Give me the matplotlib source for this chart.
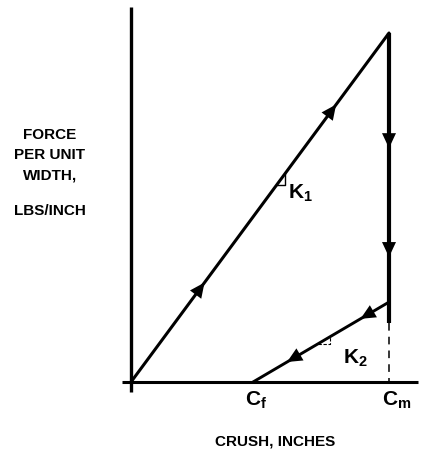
import numpy as np
import matplotlib.pyplot as plt

plt.rcParams['mathtext.fontset'] = 'custom'
plt.rcParams['mathtext.rm'] = 'Liberation Sans'
plt.rcParams['mathtext.bf'] = 'Liberation Sans:bold'
plt.rcParams['mathtext.it'] = 'Liberation Sans:bold'

# crush (normalised to C_m) and force per unit width (normalised to peak)
c_f = 0.473
c_m = 1.0
crush_load = [0.0, c_m]
force_load = [0.0, 1.0]
crush_drop = [c_m, c_m]
force_drop = [1.0, 0.17]
crush_unload = [c_m, c_f]
force_unload = [0.229, 0.0]

x_ticks = [c_f, c_m]
x_tick_labels = ['$\\mathbf{C_f}$', '$\\mathbf{C_m}$']
y_label_lines = ['FORCE', 'PER UNIT', 'WIDTH,', 'LBS/INCH']
x_label = 'CRUSH, INCHES'

# pixel layout: origin and scale of the sketch
W, H = 425, 455
ox, oy = 131, 382
sx, sy = 258, 349

fig = plt.figure(figsize=(W / 100, H / 100), dpi=100)
ax = fig.add_axes([0, 0, 1, 1])
ax.set_xlim(-ox / sx, (W - ox) / sx)
ax.set_ylim(-(H - oy) / sy, oy / sy)
ax.axis('off')


def px(x, y):
    # pixel position -> data units
    return (x - ox) / sx, (oy - y) / sy


# axes drawn by hand
x0, y_top = px(131, 7)
_, y_bot = px(131, 392)
ax.plot([0, 0], [y_bot, y_top], color='black', lw=2.4, solid_capstyle='butt')
xl, _ = px(122, 0)
xr, _ = px(418, 0)
ax.plot([xl, xr], [0, 0], color='black', lw=2.2, solid_capstyle='butt')

ax.plot(crush_load, force_load, color='black', lw=2.2, solid_capstyle='round')
ax.plot(crush_drop, force_drop, color='black', lw=3.0, solid_capstyle='butt')
ax.plot(crush_unload, force_unload, color='black', lw=2.1)
ax.plot([c_m, c_m], [force_drop[1], 0], color='black', lw=1.1,
        ls=(0, (5, 4)))


def arrow_on(xs, ys, t):
    xa, ya = xs[0] + (xs[1] - xs[0]) * t, ys[0] + (ys[1] - ys[0]) * t
    dx, dy = (xs[1] - xs[0]) * 0.001, (ys[1] - ys[0]) * 0.001
    ax.annotate('', xy=(xa, ya), xytext=(xa - dx, ya - dy),
                arrowprops=dict(arrowstyle='-|>,head_length=0.9,head_width=0.42',
                                color='black', lw=0, mutation_scale=12,
                                shrinkA=0, shrinkB=0))


arrow_on(crush_load, force_load, 0.285)
arrow_on(crush_load, force_load, 0.795)
arrow_on(crush_drop, force_drop, (1.0 - 0.670) / (1.0 - force_drop[1]))
arrow_on(crush_drop, force_drop, (1.0 - 0.358) / (1.0 - force_drop[1]))
arrow_on(crush_unload, force_unload, 0.21)
arrow_on(crush_unload, force_unload, 0.75)

# slope marker and label, loading
k1 = 0.564
d1 = 0.031
ax.plot([k1, k1 + d1, k1 + d1], [k1, k1, k1 + d1], color='black', lw=1.0)
kx, ky = px(300, 193)
ax.text(kx, ky, '$\\mathbf{K_1}$', fontsize=15, ha='center', va='center')

# slope marker and label, unloading
s2 = force_unload[0] / (crush_unload[0] - crush_unload[1])
k2x = 0.725
k2y = (k2x - c_f) * s2
d2 = 0.0465
ax.plot([k2x, k2x + d2, k2x + d2], [k2y, k2y, k2y + d2 * s2],
        color='black', lw=0.8, ls=(0, (3, 1.5)))
kx, ky = px(355, 358)
ax.text(kx, ky, '$\\mathbf{K_2}$', fontsize=15, ha='center', va='center')

# tick labels under the crush axis
for xt, lab in zip(x_ticks, x_tick_labels):
    _, ty = px(0, 400)
    ax.text(xt + 0.01 if xt < 1 else xt + 0.03, ty, lab, fontsize=15,
            ha='center', va='center')

lx, ly = px(275, 442)
ax.text(lx, ly, x_label, fontsize=11, fontweight='bold', ha='center',
        va='center', family='Liberation Sans')
for line, ypx in zip(y_label_lines, [135, 155, 175, 211]):
    lx, ly = px(50, ypx)
    ax.text(lx, ly, line, fontsize=11, fontweight='bold',
            ha='center', va='center', family='Liberation Sans')

fig.savefig('out.png', dpi=100)
